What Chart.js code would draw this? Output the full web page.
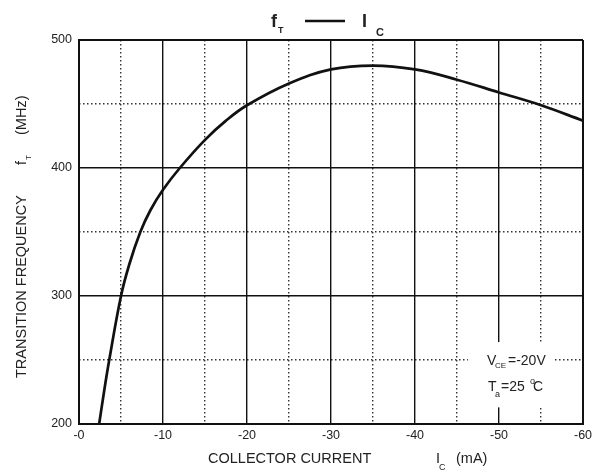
<!DOCTYPE html>
<html><head><meta charset="utf-8">
<script src="https://cdn.jsdelivr.net/npm/chart.js@4.4.0/dist/chart.umd.min.js"></script>
<style>html,body{margin:0;padding:0;background:#fff}#wrap{width:592px;height:470px}</style>
</head><body><div id="wrap"><canvas id="c" width="592" height="470"></canvas></div>
<script>
const currentMA = [-2.4, -3, -3.6, -5, -6, -7.3, -8.5, -10, -12, -15, -17.5, -20, -25, -30, -35, -40, -45, -50, -55, -60];
const freqMHz   = [200, 226, 250, 300, 325, 350, 367, 383, 400, 422, 437, 449, 466, 477, 480, 477, 469, 459, 449, 437];
const xTickLabels = ['-0', '-10', '-20', '-30', '-40', '-50', '-60'];
const yTickLabels = ['200', '300', '400', '500'];

const FONT = '"Liberation Sans", Arial, sans-serif';
const TXT = '#222';

const textPlugin = {
  id: 'texts',
  afterDraw(chart) {
    const ctx = chart.ctx;
    const xs = chart.scales.x, ys = chart.scales.y;
    ctx.save();
    ctx.fillStyle = TXT;
    ctx.textBaseline = 'alphabetic';
    ctx.textAlign = 'left';
    // top title: fT —— IC
    ctx.font = 'bold 18px ' + FONT;
    ctx.fillText('f', 271, 27);
    ctx.font = 'bold 9px ' + FONT;
    ctx.fillText('T', 278, 33);
    ctx.strokeStyle = '#111';
    ctx.lineWidth = 2.5;
    ctx.beginPath(); ctx.moveTo(305, 21); ctx.lineTo(345, 21); ctx.stroke();
    ctx.font = 'bold 18px ' + FONT;
    ctx.fillText('I', 362, 27);
    ctx.font = 'bold 11px ' + FONT;
    ctx.fillText('C', 376, 36);

    // x axis title
    ctx.font = '14.5px ' + FONT;
    ctx.fillText('COLLECTOR CURRENT', 208, 463);
    ctx.fillText('I', 436, 463);
    ctx.font = '9px ' + FONT;
    ctx.fillText('C', 439, 470);
    ctx.font = '14.5px ' + FONT;
    ctx.fillText('(mA)', 456, 463);

    // y axis title (rotated)
    ctx.save();
    ctx.translate(26, 378);
    ctx.rotate(-Math.PI / 2);
    ctx.font = '14.5px ' + FONT;
    ctx.fillText('TRANSITION FREQUENCY', 0, 0);
    ctx.fillText('f', 213, 0);
    ctx.font = '8px ' + FONT;
    ctx.fillText('T', 218, 5);
    ctx.font = '14.5px ' + FONT;
    ctx.fillText('(MHz)', 243, 0);
    ctx.restore();

    // annotation box
    const bx0 = xs.getPixelForValue(-46.3), bx1 = xs.getPixelForValue(-56.5);
    const by0 = ys.getPixelForValue(264), by1 = ys.getPixelForValue(213);
    ctx.fillStyle = '#fff';
    ctx.fillRect(bx0, by0, bx1 - bx0, by1 - by0);
    ctx.fillStyle = TXT;
    ctx.font = '14px ' + FONT;
    ctx.fillText('V', 487, 365);
    ctx.font = '8px ' + FONT;
    ctx.fillText('CE', 495, 368);
    ctx.font = '14px ' + FONT;
    ctx.fillText('=-20V', 508, 365);
    ctx.fillText('T', 488, 391);
    ctx.font = '9px ' + FONT;
    ctx.fillText('a', 495, 397);
    ctx.font = '14px ' + FONT;
    ctx.fillText('=25', 501, 391);
    ctx.font = '9px ' + FONT;
    ctx.fillText('o', 530, 384);
    ctx.font = '14px ' + FONT;
    ctx.fillText('C', 533, 391);
    ctx.restore();
  }
};

const majorGrid = (edgeMin, edgeMax) => ({
  color: '#111',
  lineWidth: (c) => (c.tick && (c.tick.value === edgeMin || c.tick.value === edgeMax)) ? 2 : 1.4,
  drawTicks: false
});

new Chart(document.getElementById('c'), {
  type: 'line',
  data: {
    datasets: [{
      data: currentMA.map((x, i) => ({ x: x, y: freqMHz[i] })),
      borderColor: '#111',
      borderWidth: 2.7,
      pointRadius: 0,
      fill: false,
      tension: 0.4
    }]
  },
  options: {
    responsive: false,
    animation: false,
    devicePixelRatio: 1,
    layout: { padding: { left: 0, right: 9, top: 40, bottom: 0 } },
    plugins: { legend: { display: false }, tooltip: { enabled: false } },
    scales: {
      xMinor: {
        type: 'linear', position: 'bottom', reverse: true, min: -60, max: 0,
        ticks: { display: false, stepSize: 5 },
        grid: {
          color: (c) => (c.tick && Math.abs(c.tick.value) % 10 === 5) ? '#333' : 'rgba(0,0,0,0)',
          lineWidth: 1.4, drawTicks: false
        },
        border: { display: false, dash: [1.5, 2.5] },
        afterFit: (s) => { s.height = 0; s.paddingLeft = 0; s.paddingRight = 0; }
      },
      yMinor: {
        type: 'linear', position: 'left', min: 200, max: 500,
        ticks: { display: false, stepSize: 50 },
        grid: {
          color: (c) => (c.tick && c.tick.value % 100 === 50) ? '#333' : 'rgba(0,0,0,0)',
          lineWidth: 1.4, drawTicks: false
        },
        border: { display: false, dash: [1.5, 2.5] },
        afterFit: (s) => { s.width = 0; s.paddingTop = 0; s.paddingBottom = 0; }
      },
      x: {
        type: 'linear', position: 'bottom', reverse: true, min: -60, max: 0,
        ticks: {
          stepSize: 10, padding: 4, color: TXT,
          font: { family: FONT, size: 12.5 },
          maxRotation: 0,
          callback: (v) => xTickLabels[Math.round(-v / 10)]
        },
        grid: majorGrid(-60, 0),
        border: { display: true, color: '#111', width: 2 },
        afterFit: (s) => { s.height = 46; s.paddingLeft = 0; s.paddingRight = 0; }
      },
      y: {
        type: 'linear', position: 'left', min: 200, max: 500,
        ticks: {
          stepSize: 100, padding: 7, color: TXT,
          font: { family: FONT, size: 12.5 },
          callback: (v) => yTickLabels[Math.round((v - 200) / 100)]
        },
        grid: majorGrid(200, 500),
        border: { display: true, color: '#111', width: 2 },
        afterFit: (s) => { s.width = 79; s.paddingTop = 0; s.paddingBottom = 0; }
      }
    }
  },
  plugins: [textPlugin]
});
</script>
</body></html>
